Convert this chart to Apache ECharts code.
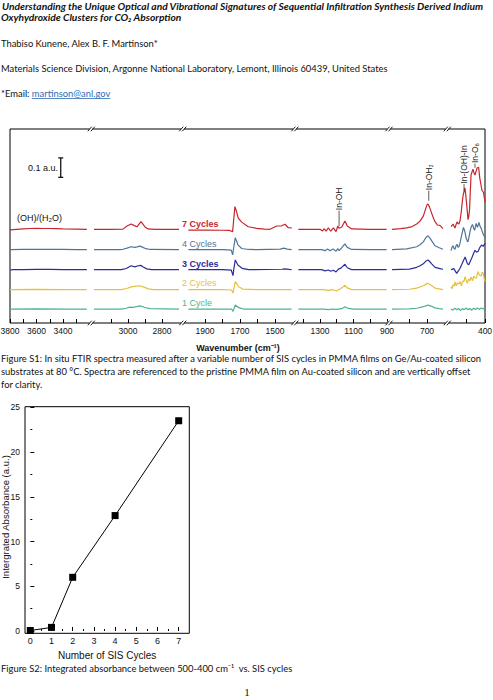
<!DOCTYPE html>
<html><head><meta charset="utf-8">
<script src="https://cdn.jsdelivr.net/npm/echarts@6/dist/echarts.min.js"></script>
<style>html,body{margin:0;padding:0;background:#fff}#c{width:493px;height:700px}</style>
</head><body><div id="c"></div>
<script>
// ================= DATA =================
// ---- Figure S1 (FTIR, broken wavenumber axis) ----
const cycleNames = ['7 Cycles', '4 Cycles', '3 Cycles', '2 Cycles', '1 Cycle'];
const cycleOffsets = [0.483, 0.378, 0.275, 0.172, 0.072]; // vertical offsets (a.u.)
const segRanges = [[3800, 3200], [3200, 2700], [2000, 1400], [1430, 900], [900, 600], [580, 400]];
const segTickLabels = [[3800, 3600, 3400], [3000, 2800], [1900, 1700, 1500], [1300, 1100, 900], [700], [400]];
const segTickValues = [[3800, 3700, 3600, 3500, 3400, 3300], [3100, 3000, 2900, 2800], [1900, 1800, 1700, 1600, 1500], [1400, 1300, 1200, 1100, 1000, 900], [800, 700], [500, 400]];

// [wavenumber, absorbance relative to the trace's baseline], one list per axis segment
const spec7 = [
  [[3800,-0.003],[3750,0.000],[3700,0.002],[3650,0.004],[3600,0.005],[3550,0.004],[3500,0.004],[3450,0.003],[3400,0.002],[3300,0.001],[3220,0.000]],
  [[3200,0.000],[3100,0.000],[3030,0.001],[3006,0.017],[2982,0.027],[2965,0.020],[2947,0.013],[2935,0.027],[2924,0.039],[2912,0.027],[2900,0.012],[2882,0.002],[2841,0.000],[2700,0.000]],
  [[1995,-0.004],[1900,-0.004],[1800,-0.005],[1760,-0.006],[1742,-0.012],[1737,0.040],[1729,0.117],[1719,0.089],[1710,0.058],[1690,0.037],[1653,0.013],[1605,0.005],[1560,0.001],[1529,0.000],[1490,0.017],[1462,0.018],[1443,0.026],[1424,0.008],[1405,0.007]],
  [[1429,0.000],[1300,0.000],[1284,-0.009],[1276,0.003],[1264,-0.009],[1250,0.007],[1236,-0.010],[1220,0.007],[1204,-0.012],[1194,0.017],[1186,0.005],[1170,0.012],[1151,0.043],[1137,0.017],[1111,0.002],[1000,0.000],[902,0.000]],
  [[900,0.000],[850,0.003],[816,0.007],[785,0.014],[759,0.027],[740,0.042],[721,0.068],[708,0.105],[700,0.126],[694,0.130],[685,0.113],[673,0.082],[663,0.057],[654,0.039],[640,0.022],[626,0.020],[609,0.003]],
  [[580,0.013],[575,0.020],[569,0.027],[564,0.015],[559,0.007],[553,0.025],[548,0.038],[543,0.030],[538,0.027],[532,0.045],[527,0.080],[517,0.170],[510,0.200],[506,0.213],[498,0.140],[490,0.050],[486,0.065],[482,0.100],[474,0.280],[464,0.310],[458,0.290],[453,0.280],[447,0.300],[442,0.316],[434,0.320],[427,0.260],[416,0.200],[408,0.190],[400,0.140]]
];
const spec4 = [
  [[3800,0.000],[3700,0.001],[3600,0.002],[3500,0.002],[3400,0.001],[3300,0.000],[3220,0.000]],
  [[3200,0.000],[3050,0.000],[3030,0.002],[3006,0.008],[2982,0.015],[2960,0.012],[2947,0.014],[2930,0.018],[2915,0.013],[2895,0.005],[2870,0.001],[2700,0.000]],
  [[1995,0.000],[1800,0.000],[1750,-0.002],[1742,-0.027],[1736,0.010],[1727,0.062],[1712,0.025],[1690,0.006],[1650,0.001],[1600,0.000],[1470,0.003],[1450,0.008],[1430,0.003],[1405,0.000]],
  [[1429,0.000],[1290,0.000],[1270,-0.005],[1255,0.003],[1240,-0.006],[1222,0.004],[1204,-0.008],[1194,0.005],[1186,-0.005],[1170,0.010],[1151,0.030],[1137,0.012],[1111,0.001],[1000,0.000],[902,0.000]],
  [[900,0.000],[816,0.004],[759,0.015],[740,0.025],[721,0.040],[708,0.060],[700,0.068],[694,0.071],[685,0.062],[673,0.045],[654,0.020],[630,0.010],[609,0.002]],
  [[580,-0.005],[575,0.012],[569,0.020],[564,0.006],[559,0.002],[553,0.020],[548,0.028],[543,0.012],[538,0.015],[532,0.035],[527,0.060],[514,0.115],[507,0.095],[500,0.060],[494,0.045],[490,0.040],[484,0.070],[478,0.100],[472,0.120],[466,0.130],[460,0.110],[455,0.100],[447,0.135],[440,0.115],[432,0.140],[426,0.120],[420,0.110],[410,0.080],[400,0.065]]
];
const spec3 = [
  [[3800,-0.003],[3780,0.000],[3700,0.000],[3600,0.001],[3500,0.001],[3400,0.000],[3220,0.000]],
  [[3200,0.000],[3040,0.000],[3010,0.006],[2982,0.020],[2960,0.014],[2940,0.020],[2925,0.022],[2910,0.014],[2890,0.004],[2860,0.000],[2700,0.000]],
  [[1995,0.000],[1800,0.000],[1750,-0.002],[1740,-0.031],[1735,0.005],[1727,0.050],[1712,0.024],[1688,0.007],[1650,0.000],[1460,0.002],[1445,0.004],[1420,0.001],[1405,0.000]],
  [[1429,0.000],[1290,0.000],[1270,-0.006],[1250,-0.002],[1236,-0.008],[1220,-0.003],[1204,-0.012],[1190,0.003],[1175,0.008],[1151,0.028],[1137,0.010],[1111,0.000],[902,0.000]],
  [[900,0.000],[800,0.003],[759,0.012],[740,0.020],[721,0.030],[705,0.045],[694,0.050],[685,0.042],[673,0.030],[654,0.012],[620,0.004],[609,0.002]],
  [[580,0.000],[565,0.005],[550,-0.019],[540,-0.005],[532,0.007],[515,0.045],[505,0.065],[493,0.030],[486,0.025],[470,0.060],[460,0.085],[453,0.100],[445,0.090],[436,0.095],[427,0.115],[418,0.127],[410,0.120],[400,0.136]]
];
const spec2 = [
  [[3800,0.000],[3600,0.001],[3400,0.000],[3220,0.000]],
  [[3200,0.000],[3040,0.000],[3006,0.006],[2982,0.014],[2950,0.018],[2930,0.020],[2910,0.014],[2880,0.004],[2850,0.000],[2700,0.000]],
  [[1995,0.000],[1800,0.000],[1748,-0.002],[1740,-0.018],[1735,0.005],[1727,0.041],[1707,0.015],[1684,0.003],[1600,0.000],[1405,0.000]],
  [[1429,0.000],[1280,0.000],[1250,-0.004],[1230,0.000],[1215,-0.003],[1200,-0.006],[1175,0.006],[1151,0.022],[1135,0.008],[1110,0.000],[902,0.000]],
  [[900,0.000],[800,0.002],[759,0.008],[721,0.020],[700,0.031],[694,0.033],[673,0.020],[654,0.008],[609,0.000]],
  [[580,0.015],[575,0.005],[569,0.025],[564,0.018],[559,0.040],[553,0.020],[546,0.035],[540,0.028],[532,0.041],[525,0.020],[518,0.045],[512,0.040],[506,0.067],[500,0.050],[494,0.033],[486,0.055],[480,0.045],[474,0.065],[466,0.045],[460,0.070],[452,0.060],[445,0.060],[440,0.085],[436,0.093],[430,0.075],[421,0.070],[415,0.090],[410,0.085],[405,0.060],[400,0.041]]
];
const spec1 = [
  [[3800,0.000],[3600,0.001],[3400,0.000],[3220,0.000]],
  [[3200,0.000],[3040,0.000],[3010,0.004],[2990,0.010],[2970,0.009],[2950,0.012],[2930,0.016],[2900,0.008],[2870,0.002],[2700,0.000]],
  [[1995,0.000],[1800,0.000],[1748,0.000],[1740,-0.012],[1734,0.002],[1727,0.021],[1707,0.007],[1680,0.000],[1405,0.000]],
  [[1429,0.000],[1280,0.000],[1250,-0.003],[1230,0.000],[1200,-0.002],[1170,0.002],[1151,0.012],[1130,0.003],[1100,0.000],[902,0.000]],
  [[900,0.000],[800,0.001],[759,0.004],[721,0.012],[694,0.020],[673,0.014],[654,0.006],[630,0.002],[609,0.000]],
  [[580,0.000],[570,-0.006],[560,0.004],[550,-0.004],[540,0.003],[530,-0.008],[520,0.002],[510,-0.003],[500,0.005],[490,-0.004],[480,0.003],[470,-0.006],[460,0.004],[450,-0.002],[440,0.006],[430,-0.002],[420,0.005],[410,0.000],[400,0.008]]
];
const spectra = [spec7, spec4, spec3, spec2, spec1];

const scaleBarWavenumber = 3417;
const scaleBarValues = [0.751, 0.851]; // 0.1 a.u.

const peakLabels = ['In-OH', 'In-OH\u2082', 'In-(OH)-In', 'In-O\u2086'];
const peakWavenumbers = [1186, 690, 511, 453];
const peakLeaderBottom = [0.500, 0.630, 0.683, 0.800];
const peakLeaderTop = [0.579, 0.682, 0.716, 0.822];

// ---- Figure S2 ----
const sisCycles = [0, 1, 2, 4, 7];
const integratedAbs = [0.05, 0.4, 6.0, 12.9, 23.5];
const s2XTicks = [0, 1, 2, 3, 4, 5, 6, 7];
const s2XMinorTicks = [0.5, 1.5, 2.5, 3.5, 4.5, 5.5, 6.5];
const s2YTicks = [0, 5, 10, 15, 20, 25];
const s2YMinorTicks = [2.5, 7.5, 12.5, 17.5, 22.5];
const s2XName = 'Number of SIS Cycles';
const s2YName = 'Intergrated Absorbance (a.u.)';

// ---- Page text ----
const docTitle = ['Understanding the Unique Optical and Vibrational Signatures of Sequential Infiltration Synthesis Derived Indium', 'Oxyhydroxide Clusters for CO\u2082 Absorption'];
const docAuthors = 'Thabiso Kunene, Alex B. F. Martinson*';
const docAffiliation = 'Materials Science Division, Argonne National Laboratory, Lemont, Illinois 60439, United States';
const docEmailLabel = '*Email: ';
const docEmail = 'martinson@anl.gov';
const captionS1 = ['Figure S1: In situ FTIR spectra measured after a variable number of SIS cycles in PMMA films on Ge/Au-coated silicon', 'substrates at 80 \u00b0C. Spectra are referenced to the pristine PMMA film on Au-coated silicon and are vertically offset', 'for clarity.'];
const captionS2 = 'Figure S2: Integrated absorbance between 500-400 cm\u207b\u00b9  vs. SIS cycles';
const pageNumber = '1';

// ================= LAYOUT / STYLE =================
const cycleColors = ['#c8262e', '#4f7698', '#2c2c9c', '#e6c03c', '#4fb38b'];
const cycleBold = [true, false, true, false, false];
const cycleLabelY = [224, 244.3, 264, 283, 303.3];
const segLayout = [
  {left: 10, width: 79.5}, {left: 94, width: 85}, {left: 187.5, width: 105},
  {left: 298.2, width: 88.8}, {left: 392, width: 52.5}, {left: 451, width: 34}
];
const FT = {left: 10, right: 485, top: 129, height: 194};
const S2 = {left: 25, top: 406.7, width: 164.3, height: 226.6};
const SANS = '"Liberation Sans", Arial, sans-serif';
const DOC = 'Lato, "Open Sans", sans-serif';
const mctx = document.createElement('canvas').getContext('2d');
function measure(text, font) { mctx.font = font; return mctx.measureText(text).width; }
function fitSize(text, prefix, family, width) { return 100 * width / measure(text, prefix + ' 100px ' + family); }

const titleSize = fitSize(docTitle[0], 'italic bold', DOC, 482);
const bodySize = fitSize(captionS1[0], 'normal normal', DOC, 482);

const grids = [], xAxes = [], yAxes = [], series = [];
segRanges.forEach(([mx, mn], i) => {
  grids.push({left: segLayout[i].left, width: segLayout[i].width, top: FT.top, height: FT.height, outerBoundsMode: 'none', containLabel: false});
  xAxes.push({
    type: 'value', gridIndex: i, position: 'bottom', inverse: true, min: mn, max: mx,
    axisLine: {show: false}, splitLine: {show: false},
    axisTick: {show: true, inside: true, length: 4, lineStyle: {color: '#000', width: 1}, customValues: segTickValues[i]},
    axisLabel: {show: true, fontSize: 8.5, color: '#111', fontFamily: SANS, margin: 3, customValues: segTickLabels[i], formatter: v => String(v)}
  });
  yAxes.push({type: 'value', gridIndex: i, min: 0, max: 1, show: false});
});
// frame grid of Figure S1 (index 6)
grids.push({left: FT.left, width: FT.right - FT.left, top: FT.top, height: FT.height, show: true, borderColor: '#000', borderWidth: 1, backgroundColor: 'transparent', outerBoundsMode: 'none'});
xAxes.push({type: 'value', gridIndex: 6, min: 0, max: 1, show: false});
yAxes.push({type: 'value', gridIndex: 6, min: 0, max: 1, show: false});
// Figure S2 grid (index 7)
grids.push({left: S2.left, top: S2.top, width: S2.width, height: S2.height, show: true, borderColor: '#000', borderWidth: 1, backgroundColor: 'transparent', outerBoundsMode: 'none'});
xAxes.push({
  type: 'value', gridIndex: 7, position: 'bottom', min: -0.25, max: 7.5,
  axisLine: {show: false}, splitLine: {show: false},
  axisTick: {show: true, inside: true, length: 4, lineStyle: {color: '#000'}, customValues: s2XTicks},
  axisLabel: {fontSize: 9, color: '#111', fontFamily: SANS, margin: 3, customValues: s2XTicks, formatter: v => String(v)},
  name: s2XName, nameLocation: 'middle', nameGap: 17,
  nameTextStyle: {fontSize: 10, color: '#111', fontFamily: SANS}
});
xAxes.push({
  type: 'value', gridIndex: 7, position: 'bottom', min: -0.25, max: 7.5,
  axisLine: {show: false}, splitLine: {show: false}, axisLabel: {show: false},
  axisTick: {show: true, inside: true, length: 2, lineStyle: {color: '#000'}, customValues: s2XMinorTicks}
});
yAxes.push({
  type: 'value', gridIndex: 7, min: -0.26, max: 25.07,
  axisLine: {show: false}, splitLine: {show: false},
  axisTick: {show: true, inside: true, length: 4, lineStyle: {color: '#000'}, customValues: s2YTicks},
  axisLabel: {fontSize: 8.5, color: '#111', fontFamily: SANS, margin: 5, customValues: s2YTicks, formatter: v => String(v)}
});
yAxes.push({
  type: 'value', gridIndex: 7, position: 'left', min: -0.26, max: 25.07,
  axisLine: {show: false}, splitLine: {show: false}, axisLabel: {show: false},
  axisTick: {show: true, inside: true, length: 2, lineStyle: {color: '#000'}, customValues: s2YMinorTicks}
});

// spectra
spectra.forEach((spec, c) => {
  spec.forEach((pts, s) => {
    series.push({
      type: 'line', name: cycleNames[c], xAxisIndex: s, yAxisIndex: s, silent: true,
      showSymbol: false, symbol: 'none', animation: false,
      lineStyle: {color: cycleColors[c], width: 1.2},
      data: pts.map(([w, r]) => [w, +(r + cycleOffsets[c]).toFixed(4)])
    });
  });
});
// scale bar
series.push({
  type: 'line', xAxisIndex: 0, yAxisIndex: 0, silent: true, animation: false,
  symbol: 'rect', symbolSize: [5, 1.2], showSymbol: true,
  itemStyle: {color: '#000'}, lineStyle: {color: '#000', width: 1.2},
  data: scaleBarValues.map(v => [scaleBarWavenumber, v])
});
// peak leaders
function segOf(w) { return segRanges.findIndex(([mx, mn]) => w <= mx && w >= mn); }
const peakSeg = peakWavenumbers.map(segOf);
peakWavenumbers.forEach((w, k) => {
  series.push({
    type: 'line', xAxisIndex: peakSeg[k], yAxisIndex: peakSeg[k], silent: true, animation: false,
    showSymbol: false, symbol: 'none', lineStyle: {color: '#333', width: 0.8},
    data: [[w, peakLeaderBottom[k]], [w, peakLeaderTop[k]]]
  });
});
// Figure S2 series
series.push({
  type: 'line', xAxisIndex: 7, yAxisIndex: 7, silent: true, animation: false,
  symbol: 'rect', symbolSize: 7, showSymbol: true,
  itemStyle: {color: '#000'}, lineStyle: {color: '#000', width: 1},
  data: sisCycles.map((x, i) => [x, integratedAbs[i]])
});

// ---------- graphics: page text, labels, break marks ----------
const g = [];
function txt(x, y, text, o) {
  g.push({type: 'text', x, y, silent: true, z: 10, rotation: o.rotation || 0,
    style: Object.assign({text, fill: '#111', align: 'left', verticalAlign: 'middle'}, o.style)});
}
const titleFont = {fontFamily: DOC, fontSize: titleSize, fontWeight: 'bold', fontStyle: 'italic'};
const bodyFont = {fontFamily: DOC, fontSize: bodySize};
txt(2, 5.5, docTitle[0], {style: titleFont});
txt(1, 17, docTitle[1], {style: titleFont});
txt(1, 43.5, docAuthors, {style: bodyFont});
txt(1, 68.5, docAffiliation, {style: bodyFont});
txt(1, 93.5, docEmailLabel, {style: bodyFont});
const emailX = 1 + measure(docEmailLabel, 'normal normal ' + bodySize + 'px ' + DOC);
const emailW = measure(docEmail, 'normal normal ' + bodySize + 'px ' + DOC);
txt(emailX, 93.5, docEmail, {style: Object.assign({}, bodyFont, {fill: '#2f6db3'})});
g.push({type: 'line', silent: true, shape: {x1: emailX, y1: 98.5, x2: emailX + emailW, y2: 98.5}, style: {stroke: '#2f6db3', lineWidth: 0.8}});
captionS1.forEach((line, i) => txt(1, 358.5 + 13 * i, line, {style: bodyFont}));
txt(1, 668, captionS2, {style: bodyFont});
g.push({type: 'text', x: 247, y: 692, silent: true, style: {text: pageNumber, fill: '#111', fontFamily: '"Liberation Serif", serif', fontSize: 11, align: 'center', verticalAlign: 'middle'}});

// S1 labels
g.push({type: 'text', x: 238, y: 348, silent: true, style: {text: 'Wavenumber (cm\u207b\u00b9)', fill: '#111', fontFamily: SANS, fontSize: 9, fontWeight: 'bold', align: 'center', verticalAlign: 'middle'}});
txt(28, 167.7, '0.1 a.u.', {style: {fontFamily: SANS, fontSize: 9}});
txt(17, 217.7, '(OH)/(H\u2082O)', {style: {fontFamily: SANS, fontSize: 9}});
cycleNames.forEach((n, c) => txt(182, cycleLabelY[c], n, {style: {fontFamily: SANS, fontSize: 9, fontWeight: cycleBold[c] ? 'bold' : 'normal', fill: cycleColors[c]}}));

// S2 y-axis title (rotated)
g.push({type: 'text', x: 5, y: 517, rotation: Math.PI / 2, silent: true,
  style: {text: s2YName, fill: '#111', fontFamily: SANS, fontSize: 9.5, align: 'center', verticalAlign: 'middle'}});

// break marks on top and bottom frame lines
for (let i = 0; i < segLayout.length - 1; i++) {
  const cx = (segLayout[i].left + segLayout[i].width + segLayout[i + 1].left) / 2;
  [FT.top, FT.top + FT.height].forEach(cy => {
    g.push({type: 'rect', silent: true, z: 20, shape: {x: cx - 2.2, y: cy - 1.5, width: 3, height: 3}, style: {fill: '#fff'}});
    [-1.5, 1.5].forEach(d => g.push({type: 'line', silent: true, z: 21,
      shape: {x1: cx + d - 2.5, y1: cy + 2.3, x2: cx + d + 1.5, y2: cy - 2.3}, style: {stroke: '#000', lineWidth: 0.9}}));
  });
}

const chart = echarts.init(document.getElementById('c'), null, {renderer: 'svg', width: 493, height: 700});
chart.setOption({
  animation: false, backgroundColor: '#fff',
  grid: grids, xAxis: xAxes, yAxis: yAxes, series, graphic: g
});

// peak labels, anchored through the axis scales
const peakG = peakWavenumbers.map((w, k) => {
  const p = chart.convertToPixel({xAxisIndex: peakSeg[k], yAxisIndex: peakSeg[k]}, [w, peakLeaderTop[k]]);
  return {type: 'text', x: p[0], y: p[1] - 0.5, rotation: Math.PI / 2, silent: true, z: 10,
    style: {text: peakLabels[k], fill: '#222', fontFamily: SANS, fontSize: 8.5, align: 'left', verticalAlign: 'middle'}};
});
chart.setOption({graphic: g.concat(peakG)});
</script></body></html>
